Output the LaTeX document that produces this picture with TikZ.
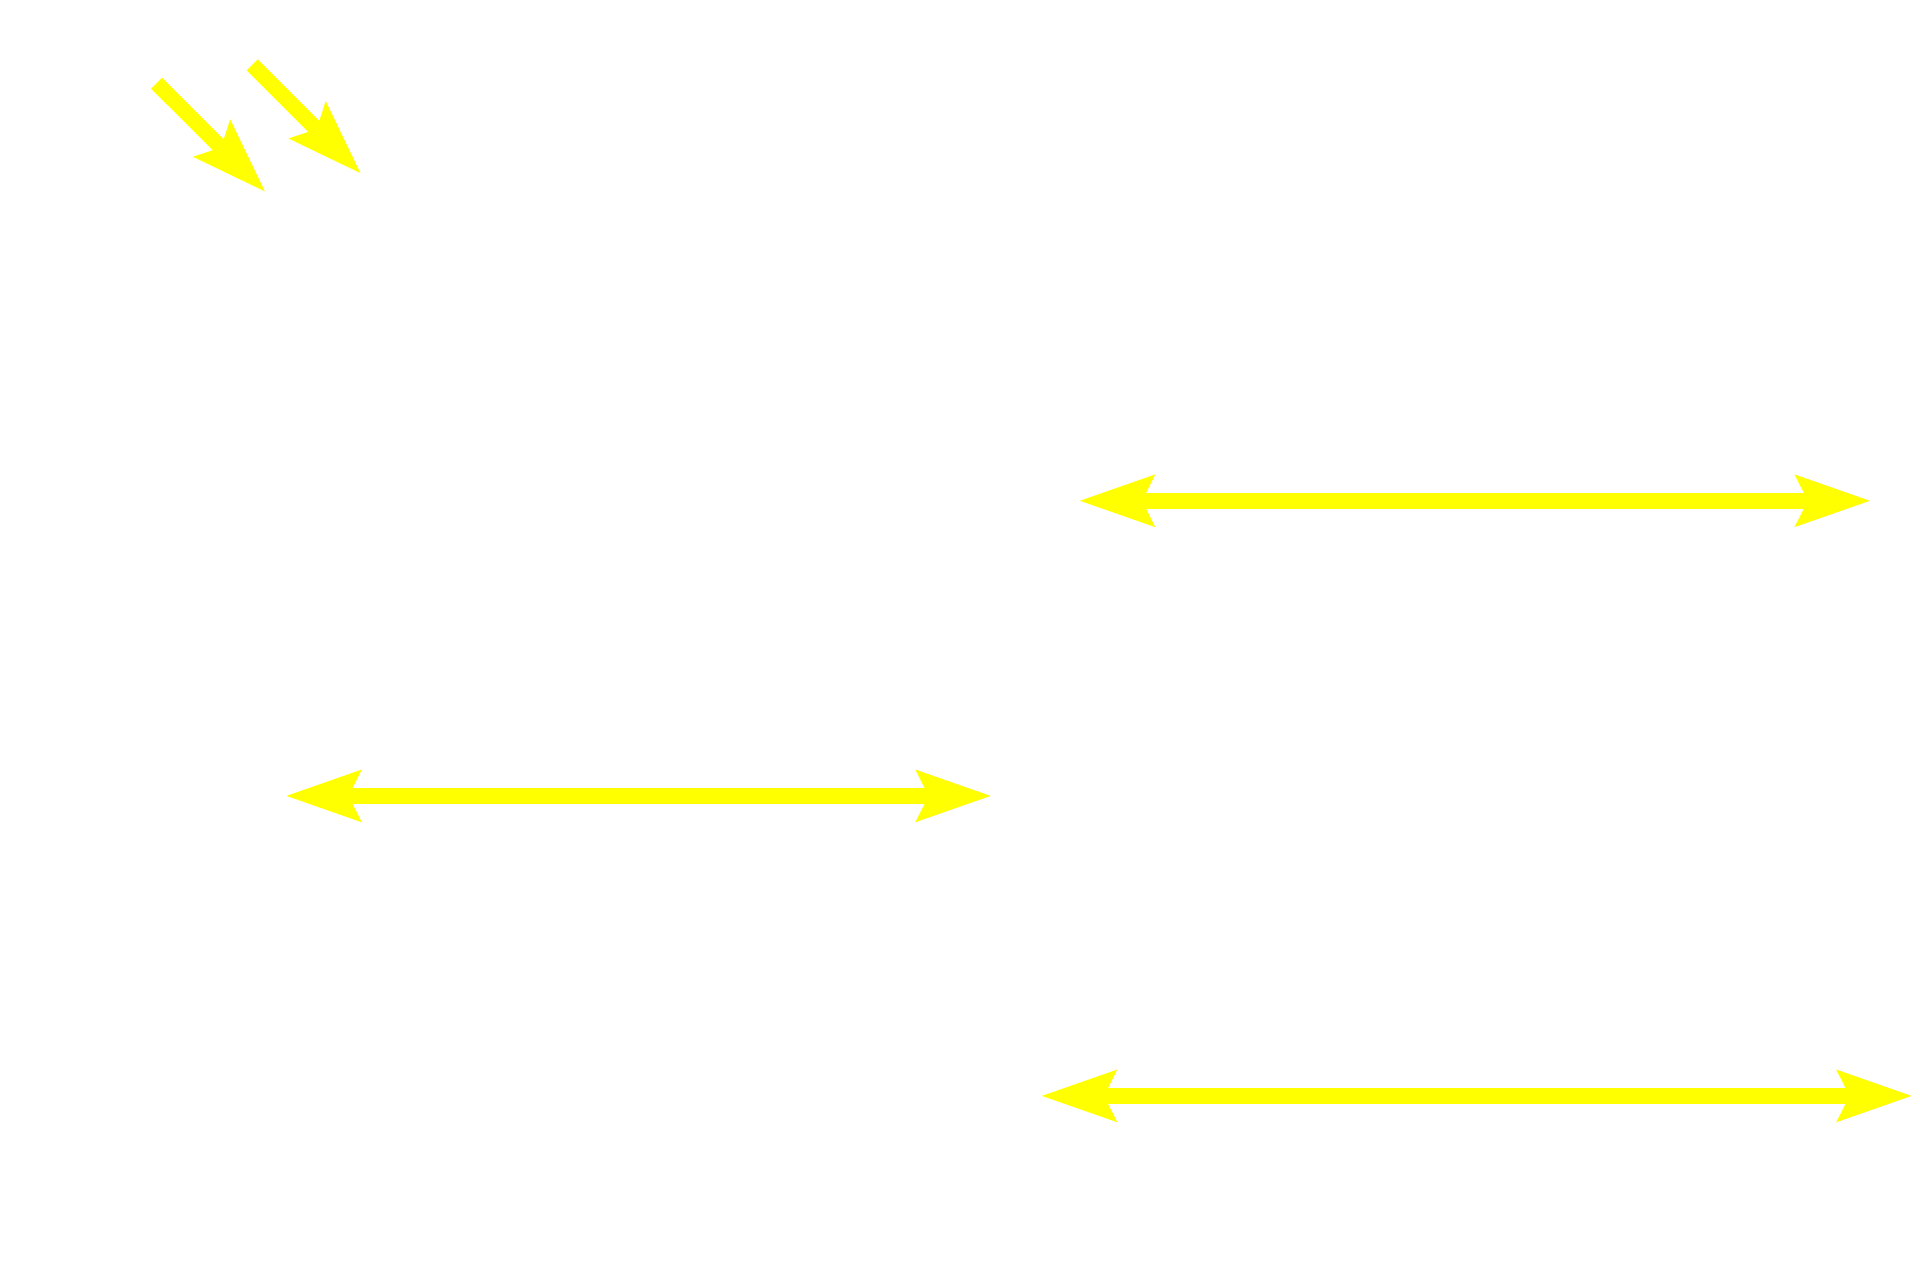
\documentclass[tikz,border=0pt]{standalone}
\usepackage{tikz}
\usetikzlibrary{arrows.meta}
\definecolor{markyellow}{RGB}{255,255,0}

\begin{document}
\begin{tikzpicture}[ pointer/.style = {draw=markyellow, line width=4.4pt,
                     -{Stealth[length=7.4mm, width=4.9mm, inset=1.1mm]}},
                     twoway/.style = {pointer,
                     {Stealth[length=7.4mm, width=4.9mm, inset=1.1mm]}-{Stealth[length=7.4mm, width=4.9mm, inset=1.1mm]}}]
  \useasboundingbox (0,0) rectangle (19.2,-12.8);
  \coordinate (tailOne) at (1.567,-0.833);
  \coordinate (tipOne)  at (2.657,-1.922);
  \coordinate (tailTwo) at (2.522,-0.649);
  \coordinate (tipTwo)  at (3.612,-1.739);
  \coordinate (upperL)  at (10.788,-5.008);
  \coordinate (upperR)  at (18.710,-5.008);
  \coordinate (middleL) at (2.853,-7.959);
  \coordinate (middleR) at (9.918,-7.959);
  \coordinate (lowerL)  at (10.408,-10.959);
  \coordinate (lowerR)  at (19.127,-10.959);
  \draw[pointer] (tailOne) -- (tipOne);
  \draw[pointer] (tailTwo) -- (tipTwo);
  \draw[twoway] (upperL) -- (upperR);
  \draw[twoway] (middleL) -- (middleR);
  \draw[twoway] (lowerL) -- (lowerR);
\end{tikzpicture}
\end{document}
